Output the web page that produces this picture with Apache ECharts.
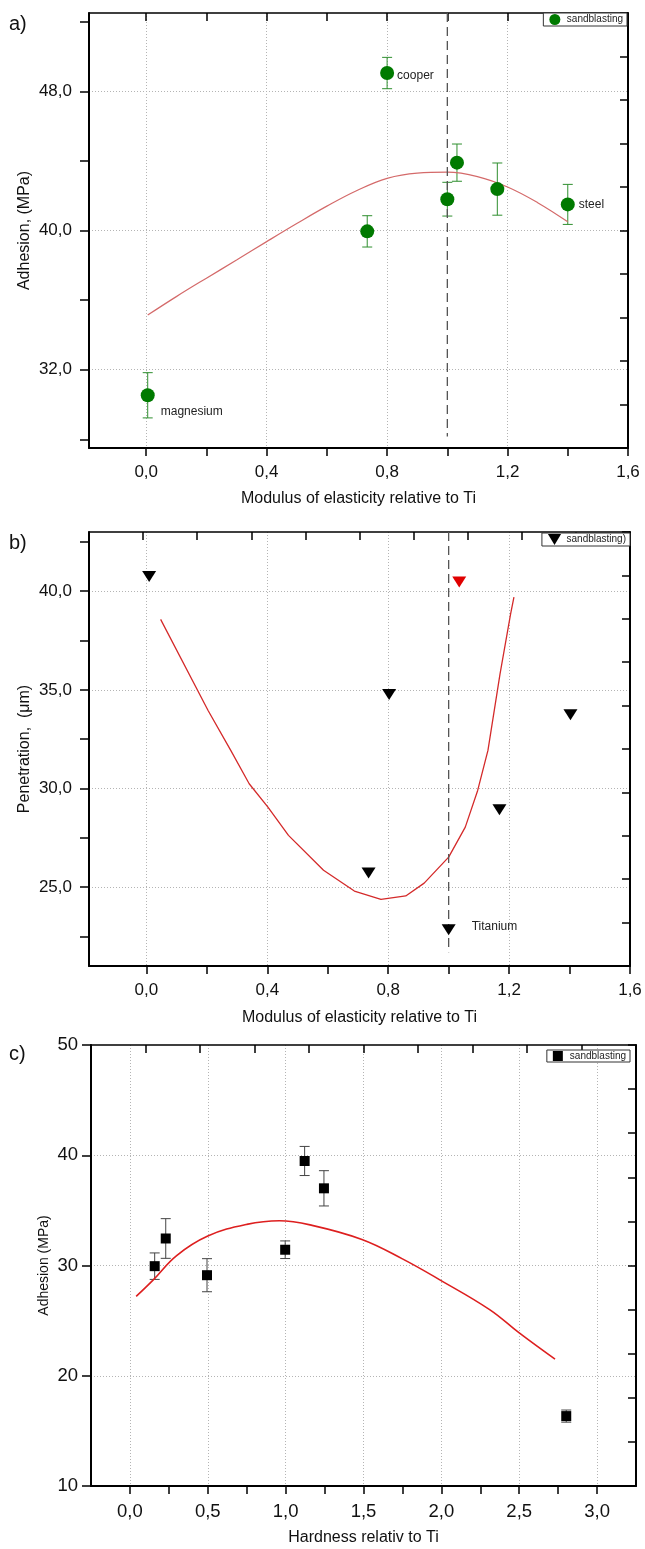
<!DOCTYPE html>
<html><head><meta charset="utf-8">
<script src="https://cdn.jsdelivr.net/npm/echarts@6/dist/echarts.min.js"></script>
<style>html,body{margin:0;padding:0;background:#fff}#c{width:645px;height:1549px}</style>
</head><body><div id="c"></div>
<script>
// ---------------- Panel a: adhesion vs modulus of elasticity ----------------
const aX     = [0.005, 0.734, 0.800, 1.000, 1.032, 1.166, 1.400];
const aY     = [30.53, 39.95, 49.05, 41.80, 43.90, 42.38, 41.50];
const aErr   = [1.30, 0.90, 0.90, 0.97, 1.07, 1.50, 1.15];
const aNames = ['magnesium', '', 'cooper', '', '', '', 'steel'];
const aFitX  = [0.005, 0.1, 0.2, 0.3, 0.4, 0.5, 0.6, 0.7, 0.8, 0.9, 1.0, 1.1, 1.2, 1.3, 1.4];
const aFitY  = [35.14, 36.20, 37.26, 38.30, 39.36, 40.40, 41.40, 42.30, 43.00, 43.30, 43.35, 43.10, 42.50, 41.60, 40.50];
const aRefX  = [1.0, 1.0];
const aRefY  = [52.5, 28.16];
const aXTicks  = [0, 0.2, 0.4, 0.6, 0.8, 1.0, 1.2, 1.4, 1.6];
const aXTop    = [0, 0.2, 0.4, 0.6, 0.8, 1.0, 1.2, 1.4];
const aXLabels = [0, 0.4, 0.8, 1.2, 1.6];
const aXGrid   = [0, 0.4, 0.8, 1.2];
const aYTicks  = [28, 32, 36, 40, 44, 48, 52];
const aYLabels = [32, 40, 48];
const aYGrid   = [32, 40, 48];

// ---------------- Panel b: penetration vs modulus of elasticity ----------------
const bX     = [0.009, 0.735, 0.803, 1.000, 1.035, 1.168, 1.403];
const bY     = [40.74, 25.71, 34.76, 22.84, 40.46, 28.92, 33.74];
const bNames = ['', '', '', 'Titanium', '', '', ''];
const bRedIndex = 4;
const bFitX  = [0.047, 0.204, 0.279, 0.340, 0.402, 0.470, 0.586, 0.688, 0.776, 0.858, 0.919, 1.000, 1.055, 1.096, 1.130, 1.170, 1.205, 1.216];
const bFitY  = [38.57, 33.95, 31.93, 30.24, 29.05, 27.62, 25.85, 24.80, 24.38, 24.55, 25.20, 26.52, 28.04, 29.90, 31.93, 35.81, 38.85, 39.70];
const bRefX  = [1.0, 1.0];
const bRefY  = [43, 21.7];
const bXTicks  = [0, 0.2, 0.4, 0.6, 0.8, 1.0, 1.2, 1.4, 1.6];
const bXLabels = [0, 0.4, 0.8, 1.2, 1.6];
const bXGrid   = [0, 0.4, 0.8, 1.2];
const bYTicks  = [22.5, 25, 27.5, 30, 32.5, 35, 37.5, 40, 42.5];
const bYLabels = [25, 30, 35, 40];
const bYGrid   = [25, 30, 35, 40];

// ---------------- Panel c: adhesion vs hardness ----------------
const cX    = [0.159, 0.230, 0.495, 0.997, 1.122, 1.246, 2.802];
const cY    = [29.94, 32.45, 29.12, 31.43, 39.48, 37.00, 16.34];
const cErr  = [1.20, 1.80, 1.50, 0.80, 1.32, 1.60, 0.55];
const cFitX = [0.04, 0.15, 0.30, 0.50, 0.75, 0.96, 1.17, 1.49, 1.75, 1.99, 2.31, 2.50, 2.73];
const cFitY = [27.2, 28.7, 30.9, 32.67, 33.73, 34.06, 33.64, 32.36, 30.6, 28.7, 26.0, 23.88, 21.5];
const cXTicks  = [0, 0.25, 0.5, 0.75, 1.0, 1.25, 1.5, 1.75, 2.0, 2.25, 2.5, 2.75, 3.0];
const cXLabels = [0, 0.5, 1.0, 1.5, 2.0, 2.5, 3.0];
const cXGrid   = [0, 0.5, 1.0, 1.5, 2.0, 2.5, 3.0];
const cYTicks  = [10, 20, 30, 40, 50];
const cYLabels = [10, 20, 30, 40, 50];
const cYGrid   = [20, 30, 40];

// ---------------- styling / layout ----------------
const FONT = "'Liberation Sans', Arial, sans-serif";
const fmt1 = v => v.toFixed(1).replace('.', ',');
const fmt0 = v => String(Math.round(v));
const GRIDLINE = {color: '#b4b4b4', type: [1, 2], width: 1};
const pairs = (xs, ys) => xs.map((x, i) => [x, ys[i]]);

const panels = [
  {grid: {left: 89, right: 17, top: 13, height: 435},
   x: {min: -0.19, max: 1.6, ticks: aXTicks, labels: aXLabels, grid: aXGrid, fmt: fmt1, fs: 17,
       title: 'Modulus of elasticity relative to Ti', nameGap: 43, top: {min: -0.19, max: 1.6, custom: aXTop}},
   y: {min: 27.5, max: 52.5, ticks: aYTicks, labels: aYLabels, grid: aYGrid, fmt: fmt1, fs: 17,
       title: 'Adhesion, (MPa)', nameGap: 56, tfs: 16, margin: 17}},
  {grid: {left: 89, right: 15, top: 532, height: 434},
   x: {min: -0.19, max: 1.6, ticks: bXTicks, labels: bXLabels, grid: bXGrid, fmt: fmt1, fs: 17,
       title: 'Modulus of elasticity relative to Ti', nameGap: 44, top: null},
   y: {min: 21, max: 43, ticks: bYTicks, labels: bYLabels, grid: bYGrid, fmt: fmt1, fs: 17,
       title: 'Penetration,  (\u03bcm)', nameGap: 56, tfs: 16, margin: 17}},
  {grid: {left: 91, right: 9, top: 1045, height: 441},
   x: {min: -0.25, max: 3.25, ticks: cXTicks, labels: cXLabels, grid: cXGrid, fmt: fmt1, fs: 18.5,
       title: 'Hardness relativ to Ti', nameGap: 44, top: null},
   y: {min: 10, max: 50, ticks: cYTicks, labels: cYLabels, grid: cYGrid, fmt: fmt0, fs: 18.5,
       title: 'Adhesion (MPa)', nameGap: 40, tfs: 14, margin: 13}}
];

const xAxis = [], yAxis = [];
panels.forEach((p, g) => {
  const X = p.x, Y = p.y;
  xAxis.push({
    type: 'value', gridIndex: g, position: 'bottom', min: X.min, max: X.max,
    name: X.title, nameLocation: 'middle', nameGap: X.nameGap, nameMoveOverlap: false,
    nameTextStyle: {fontFamily: FONT, fontSize: 16, color: '#111'},
    axisLine: {show: true, onZero: false, lineStyle: {color: '#000', width: 2}},
    axisTick: {show: true, inside: false, length: 8, customValues: X.ticks, lineStyle: {color: '#000', width: 1.5}},
    axisLabel: {show: true, customValues: X.labels, formatter: X.fmt, margin: 16, fontFamily: FONT, fontSize: X.fs, color: '#111'},
    splitLine: {show: false}
  });
  const topAx = X.top
    ? {min: X.top.min, max: X.top.max, axisTick: {show: true, inside: true, length: 8, customValues: X.top.custom, lineStyle: {color: '#000', width: 1.5}}}
    : {min: 0, max: 10, interval: 1, axisTick: {show: true, inside: true, length: 8, lineStyle: {color: '#000', width: 1.5}}};
  xAxis.push(Object.assign({
    type: 'value', gridIndex: g, position: 'top',
    axisLine: {show: true, onZero: false, lineStyle: {color: '#000', width: 1.5}},
    axisLabel: {show: false}, splitLine: {show: false}
  }, topAx));
  xAxis.push({
    type: 'value', gridIndex: g, position: 'bottom', min: X.min, max: X.max,
    axisLine: {show: false, onZero: false}, axisTick: {show: false, customValues: X.grid},
    axisLabel: {show: false}, splitLine: {show: true, lineStyle: GRIDLINE}
  });

  yAxis.push({
    type: 'value', gridIndex: g, position: 'left', min: Y.min, max: Y.max,
    name: Y.title, nameLocation: 'middle', nameGap: Y.nameGap, nameMoveOverlap: false,
    nameTextStyle: {fontFamily: FONT, fontSize: Y.tfs, color: '#111'},
    axisLine: {show: true, onZero: false, lineStyle: {color: '#000', width: 2}},
    axisTick: {show: true, inside: false, length: 9, customValues: Y.ticks, lineStyle: {color: '#000', width: 1.5}},
    axisLabel: {show: true, customValues: Y.labels, formatter: Y.fmt, margin: Y.margin, fontFamily: FONT, fontSize: Y.fs, color: '#111'},
    splitLine: {show: false}
  });
  yAxis.push({
    type: 'value', gridIndex: g, position: 'right', min: 0, max: 10, interval: 1,
    axisLine: {show: true, onZero: false, lineStyle: {color: '#000', width: 2}},
    axisTick: {show: true, inside: true, length: 8, lineStyle: {color: '#000', width: 1.5}},
    axisLabel: {show: false}, splitLine: {show: false}
  });
  yAxis.push({
    type: 'value', gridIndex: g, position: 'left', min: Y.min, max: Y.max,
    axisLine: {show: false, onZero: false}, axisTick: {show: false, customValues: Y.grid},
    axisLabel: {show: false}, splitLine: {show: true, lineStyle: GRIDLINE}
  });
});

function errBars(color, cap) {
  return function (params, api) {
    const x = api.value(0), y = api.value(1), e = api.value(2);
    const t = api.coord([x, y + e]);
    const b = api.coord([x, y - e]);
    const style = {stroke: color, lineWidth: 1};
    return {type: 'group', children: [
      {type: 'line', shape: {x1: t[0], y1: t[1], x2: b[0], y2: b[1]}, style: style},
      {type: 'line', shape: {x1: t[0] - cap, y1: t[1], x2: t[0] + cap, y2: t[1]}, style: style},
      {type: 'line', shape: {x1: b[0] - cap, y1: b[1], x2: b[0] + cap, y2: b[1]}, style: style}
    ]};
  };
}

const labelOffsets = {
  magnesium: {position: 'right', distance: 6, offset: [0, 16]},
  cooper: {position: 'right', distance: 3, offset: [0, 3]},
  steel: {position: 'right', distance: 4, offset: [0, 0]},
  Titanium: {position: 'right', distance: 16, offset: [0, -3]}
};
function labelled(xs, ys, names, extra) {
  return xs.map((x, i) => {
    const item = {value: [x, ys[i]]};
    if (names[i]) {
      item.label = Object.assign({show: true, formatter: names[i], fontFamily: FONT, fontSize: 12, color: '#222'}, labelOffsets[names[i]]);
    }
    if (extra) extra(item, i);
    return item;
  });
}

const series = [
  // a
  {type: 'custom', name: 'errA', xAxisIndex: 0, yAxisIndex: 0, renderItem: errBars('#2f8f2f', 5),
   data: aX.map((x, i) => [x, aY[i], aErr[i]]), encode: {x: 0, y: 1}, z: 2, silent: true},
  {type: 'line', name: 'fitA', xAxisIndex: 0, yAxisIndex: 0, data: pairs(aFitX, aFitY), smooth: 0.4,
   showSymbol: false, lineStyle: {color: '#d46a6a', width: 1.2}, z: 3},
  {type: 'line', name: 'refA', xAxisIndex: 0, yAxisIndex: 0, data: pairs(aRefX, aRefY),
   showSymbol: false, lineStyle: {color: '#555', width: 1.3, type: [9, 5]}, z: 3},
  {type: 'scatter', name: 'sandblasting', xAxisIndex: 0, yAxisIndex: 0, symbol: 'circle', symbolSize: 14,
   itemStyle: {color: '#007a00', opacity: 1}, data: labelled(aX, aY, aNames), z: 5},
  // b
  {type: 'line', name: 'fitB', xAxisIndex: 3, yAxisIndex: 3, data: pairs(bFitX, bFitY),
   showSymbol: false, lineStyle: {color: '#d42a2a', width: 1.3}, z: 3},
  {type: 'line', name: 'refB', xAxisIndex: 3, yAxisIndex: 3, data: pairs(bRefX, bRefY),
   showSymbol: false, lineStyle: {color: '#555', width: 1.3, type: [9, 5]}, z: 3},
  {type: 'scatter', name: 'sandblasting)', xAxisIndex: 3, yAxisIndex: 3, symbol: 'triangle', symbolRotate: 180,
   symbolSize: [14, 11], itemStyle: {color: '#000', opacity: 1},
   data: labelled(bX, bY, bNames, (item, i) => { if (i === bRedIndex) item.itemStyle = {color: '#e00000', opacity: 1}; }), z: 5},
  // c
  {type: 'custom', name: 'errC', xAxisIndex: 6, yAxisIndex: 6, renderItem: errBars('#444', 5),
   data: cX.map((x, i) => [x, cY[i], cErr[i]]), encode: {x: 0, y: 1}, z: 2, silent: true},
  {type: 'line', name: 'fitC', xAxisIndex: 6, yAxisIndex: 6, data: pairs(cFitX, cFitY), smooth: 0.4,
   showSymbol: false, lineStyle: {color: '#dd1f1f', width: 1.6}, z: 3},
  {type: 'scatter', name: 'sandblasting', xAxisIndex: 6, yAxisIndex: 6, symbol: 'rect', symbolSize: 10,
   itemStyle: {color: '#000', opacity: 1}, data: pairs(cX, cY), z: 5}
];

const legendBase = {
  orient: 'horizontal', selectedMode: false, backgroundColor: '#fff',
  borderColor: '#333', borderWidth: 1, borderRadius: 0, padding: [1, 4, 1, 6],
  itemWidth: 14, itemHeight: 11, itemGap: 0,
  textStyle: {fontFamily: FONT, fontSize: 10, color: '#222'}
};
const legend = [
  Object.assign({}, legendBase, {right: 18, top: 13,
    data: [{name: 'sandblasting', icon: 'circle', itemStyle: {color: '#007a00', opacity: 1}}]}),
  Object.assign({}, legendBase, {right: 15, top: 533,
    data: [{name: 'sandblasting)', icon: 'path://M0,0 L12,0 L6,10 Z', itemStyle: {color: '#000', opacity: 1}}]}),
  Object.assign({}, legendBase, {right: 15, top: 1050, itemHeight: 10,
    data: [{name: 'sandblasting', icon: 'path://M0,0 L10,0 L10,10 L0,10 Z', itemStyle: {color: '#000', opacity: 1}}]})
];

const panelTag = {fontFamily: FONT, fontSize: 20, fontWeight: 'normal', color: '#111'};
const option = {
  animation: false,
  backgroundColor: '#fff',
  title: [
    {text: 'a)', left: 9, top: 14, padding: 0, textStyle: panelTag},
    {text: 'b)', left: 9, top: 533, padding: 0, textStyle: panelTag},
    {text: 'c)', left: 9, top: 1044, padding: 0, textStyle: panelTag}
  ],
  legend: legend,
  grid: panels.map(p => Object.assign({containLabel: false}, p.grid)),
  xAxis: xAxis,
  yAxis: yAxis,
  series: series
};

const chart = echarts.init(document.getElementById('c'), null, {renderer: 'canvas'});
chart.setOption(option);
</script>
</body></html>
